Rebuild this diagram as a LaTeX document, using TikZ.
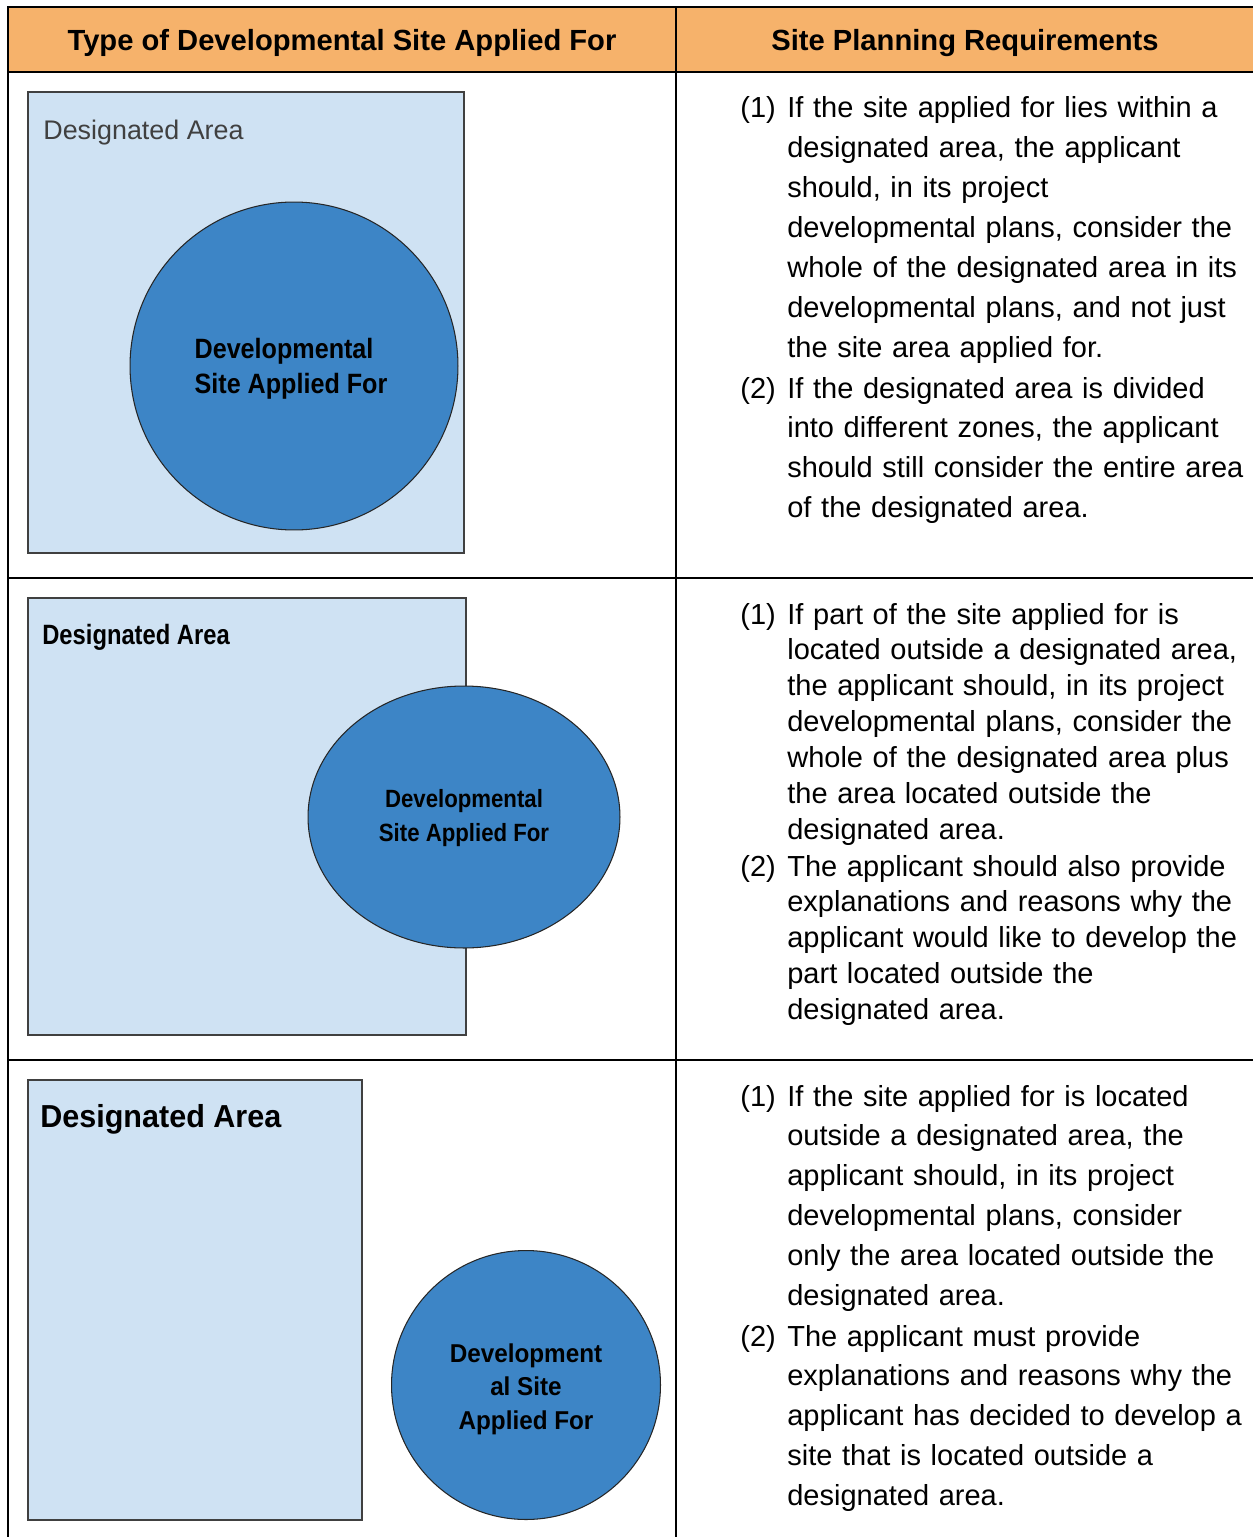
\documentclass[tikz,border=0pt]{standalone}
\usepackage{fontspec}
\setmainfont{Liberation Sans}
\usetikzlibrary{shapes.geometric}

\definecolor{headorange}{HTML}{F6B26B}
\definecolor{arealight}{HTML}{CFE2F3}
\definecolor{siteblue}{HTML}{3D85C6}
\definecolor{areaedge}{HTML}{404040}

\begin{document}
\begin{tikzpicture}[
    x=0.02cm, y=-0.02cm, % 1 Einheit = 1 Pixel
    rule/.style={line width=1.4pt, black}, % Tabellenlinien
    head/.style={anchor=base, inner sep=0pt, font=\bfseries\fontsize{16.6}{20}\selectfont}, % Kopfzeile
    area/.style={draw=areaedge, line width=1.2pt, fill=arealight, inner sep=0pt}, % Designated Area
    site/.style={draw=black!85, line width=0.6pt, fill=siteblue, inner sep=0pt}, % Site Applied For
    sitetext/.style={inner sep=0pt}, % Text im Kreis
    arealabel/.style={anchor=base west, inner sep=0pt}, % Beschriftung der Flaeche
    num/.style={anchor=base west, inner sep=0pt, font=\fontsize{16.5}{22.68}\selectfont}, % (1), (2)
    req/.style={anchor=base west, inner sep=0pt, align=left, text width=9.4cm, font=\fontsize{16.5}{22.68}\selectfont}, % Anforderungen
    reqtight/.style={req, font=\fontsize{16.5}{20.41}\selectfont} % engere Zeilen
]
\useasboundingbox (0,0) rectangle (1253,1537);

% Kopfzeile
\fill[headorange] (8,7) rectangle (1253,72);
\node[head] (headtype) at (342,51) {Type of Developmental Site Applied For};
\node[head] (headreq) at (965,51) {Site Planning Requirements};

% Zeile 1: Flaeche liegt innerhalb
\node[area, minimum width=8.72cm, minimum height=9.22cm] (r1area) at (246,322.5) {};
\node[arealabel, text=black!75, font=\fontsize{15.3}{18}\selectfont] (r1label) at (43,140) {Designated Area};
\node[site, circle, minimum size=6.56cm] (r1site) at (294,366) {};
\node[sitetext, align=left, font=\bfseries\fontsize{15.9}{20.2}\selectfont\addfontfeature{FakeStretch=0.9}]
      (r1sitetext) at (291,369) {Developmental\\Site Applied For};

\node[num] (r1n1) at (740,118) {(1)};
\node[req] (r1t1) at (787,118) {If the site applied for lies within a\\
designated area, the applicant\\
should, in its project\\
developmental plans, consider the\\
whole of the designated area in its\\
developmental plans, and not just\\
the site area applied for.};
\node[num] (r1n2) at (740,398) {(2)};
\node[req] (r1t2) at (787,398) {If the designated area is divided\\
into different zones, the applicant\\
should still consider the entire area\\
of the designated area.};

% Zeile 2: Flaeche teilweise ausserhalb
\node[area, minimum width=8.76cm, minimum height=8.74cm] (r2area) at (247,816.5) {};
\node[arealabel, font=\bfseries\fontsize{15.9}{18}\selectfont\addfontfeature{FakeStretch=0.85}] (r2label) at (42,644) {Designated Area};
\node[site, ellipse, minimum width=6.24cm, minimum height=5.24cm] (r2site) at (464,817) {};
\node[sitetext, align=center, font=\bfseries\fontsize{14.2}{19.3}\selectfont\addfontfeature{FakeStretch=0.89}]
      (r2sitetext) at (464,818) {Developmental\\Site Applied For};

\node[num] (r2n1) at (740,624) {(1)};
\node[reqtight] (r2t1) at (787,624) {If part of the site applied for is\\
located outside a designated area,\\
the applicant should, in its project\\
developmental plans, consider the\\
whole of the designated area plus\\
the area located outside the\\
designated area.};
\node[num] (r2n2) at (740,876) {(2)};
\node[reqtight] (r2t2) at (787,876) {The applicant should also provide\\
explanations and reasons why the\\
applicant would like to develop the\\
part located outside the\\
designated area.};

% Zeile 3: Flaeche ausserhalb
\node[area, minimum width=6.68cm, minimum height=8.8cm] (r3area) at (195,1300) {};
\node[arealabel, font=\bfseries\fontsize{18.1}{21}\selectfont\addfontfeature{FakeStretch=0.96}] (r3label) at (40,1127) {Designated Area};
\node[site, circle, minimum size=5.38cm] (r3site) at (526,1385) {};
\node[sitetext, align=center, font=\bfseries\fontsize{14.7}{19}\selectfont\addfontfeature{FakeStretch=0.94}]
      (r3sitetext) at (526,1389) {Development\\al Site\\Applied For};

\node[num] (r3n1) at (740,1106) {(1)};
\node[req] (r3t1) at (787,1106) {If the site applied for is located\\
outside a designated area, the\\
applicant should, in its project\\
developmental plans, consider\\
only the area located outside the\\
designated area.};
\node[num] (r3n2) at (740,1346) {(2)};
\node[req] (r3t2) at (787,1346) {The applicant must provide\\
explanations and reasons why the\\
applicant has decided to develop a\\
site that is located outside a\\
designated area.};

% Tabellenlinien
\draw[rule] (8,1537) -- (8,7) -- (1253,7);
\draw[rule] (8,72) -- (1253,72);
\draw[rule] (8,578) -- (1253,578);
\draw[rule] (8,1060) -- (1253,1060);
\draw[rule] (676,7) -- (676,1537);

\end{tikzpicture}
\end{document}
